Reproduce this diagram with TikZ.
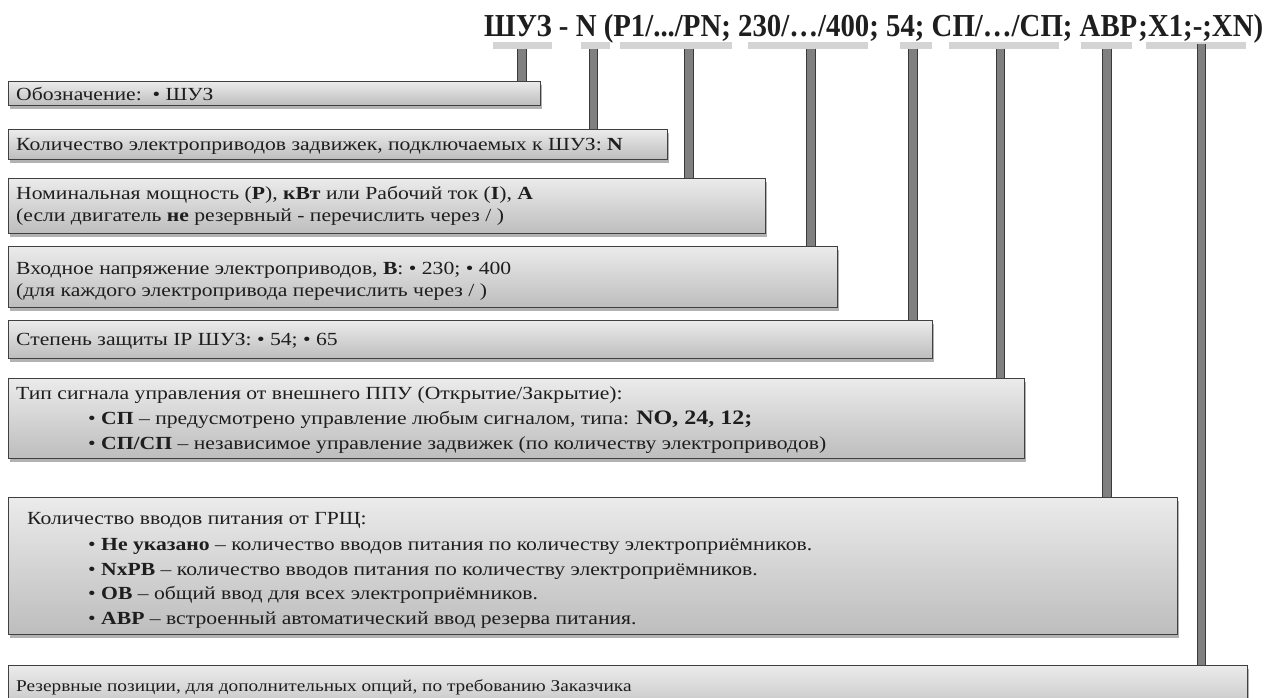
\documentclass[tikz,border=0pt]{standalone}
\usepackage{fontspec}
\setmainfont{Liberation Serif}[FakeStretch=1.17]
\newfontfamily\ttlfont{Liberation Serif}[FakeStretch=0.9]
\usetikzlibrary{shadows}
\definecolor{boxtop}{HTML}{EBEBEB}
\definecolor{boxbot}{HTML}{BDBDBD}
\definecolor{boxline}{HTML}{404040}
\definecolor{barfill}{HTML}{808080}
\definecolor{barline}{HTML}{3A3A3A}
\definecolor{uline}{HTML}{D4D4D4}
\definecolor{ink}{HTML}{1E1E1E}
\begin{document}
\begin{tikzpicture}[x=1pt,y=-1pt,
  box/.style={draw=boxline, line width=1.2pt, top color=boxtop, bottom color=boxbot,
    anchor=north west, inner sep=0pt, rectangle,
    drop shadow={shadow xshift=1.5pt, shadow yshift=-3pt, fill=black, opacity=0.3}},
  txt/.style={anchor=base west, inner sep=0pt, text=ink, font=\fontsize{18.5}{22}\selectfont},
  small/.style={anchor=base west, inner sep=0pt, text=ink, font=\fontsize{16.5}{19}\selectfont},
  ttl/.style={anchor=base west, inner sep=0pt, text=ink, font=\ttlfont\fontsize{32}{36}\selectfont\bfseries},
  ul/.style={fill=uline, draw=none, anchor=north west, inner sep=0pt, minimum height=6.5pt},
  bar/.style={draw=barline, line width=0.9pt, double=barfill, double distance=7.5pt}]
\useasboundingbox (0,0) rectangle (1272,697);
\fill[white] (0,0) rectangle (1272,697);

% title
\node[ttl] (title) at (484,36) {ШУЗ - N (P1/.../PN; 230/…/400; 54; СП/…/СП; АВР;Х1;-;ХN)};

% underlines
\node[ul, minimum width=59pt]  (u1) at (493,42) {};
\node[ul, minimum width=29pt]  (u2) at (581,42) {};
\node[ul, minimum width=112pt] (u3) at (620,42) {};
\node[ul, minimum width=120pt] (u4) at (748,42) {};
\node[ul, minimum width=32pt]  (u5) at (900,42) {};
\node[ul, minimum width=110pt] (u6) at (949,42) {};
\node[ul, minimum width=51pt]  (u7) at (1081,42) {};
\node[ul, minimum width=100pt] (u8) at (1146,42) {};

% bar tops
\coordinate (t1) at (522,48.5);
\coordinate (t2) at (593.5,48.5);
\coordinate (t3) at (689,48.5);
\coordinate (t4) at (811,48.5);
\coordinate (t5) at (913,48.5);
\coordinate (t6) at (1000.5,48.5);
\coordinate (t7) at (1107,48.5);
\coordinate (t8) at (1201.5,44);

% boxes
\node[box, minimum width=532pt,  minimum height=24pt] (b1) at (8,81) {};
\node[box, minimum width=659pt,  minimum height=30pt] (b2) at (8,129) {};
\node[box, minimum width=757pt,  minimum height=55pt] (b3) at (8,178) {};
\node[box, minimum width=829pt,  minimum height=61pt] (b4) at (8,246) {};
\node[box, minimum width=924pt,  minimum height=38pt] (b5) at (8,320) {};
\node[box, minimum width=1016pt, minimum height=80pt] (b6) at (8,378) {};
\node[box, minimum width=1169pt, minimum height=137pt] (b7) at (8,497) {};
\node[box, minimum width=1239pt, minimum height=52pt] (b8) at (8,665) {};

% bars
\draw[bar] (t1) -- (t1 |- b1.north);
\draw[bar] (t2) -- (t2 |- b2.north);
\draw[bar] (t3) -- (t3 |- b3.north);
\draw[bar] (t4) -- (t4 |- b4.north);
\draw[bar] (t5) -- (t5 |- b5.north);
\draw[bar] (t6) -- (t6 |- b6.north);
\draw[bar] (t7) -- (t7 |- b7.north);
\draw[bar] (t8) -- (t8 |- b8.north);

% texts
\node[txt] (x1) at (16,100) {Обозначение:\ \ • ШУЗ};
\node[txt] (x2) at (16,150) {Количество электроприводов задвижек, подключаемых к ШУЗ: \textbf{N}};
\node[txt] (x3a) at (16,199) {Номинальная мощность (\textbf{P}), \textbf{кВт} или Рабочий ток (\textbf{I}), \textbf{A}};
\node[txt] (x3b) at (16,221) {(если двигатель \textbf{не} резервный - перечислить через / )};
\node[txt] (x4a) at (16,274) {Входное напряжение электроприводов, \textbf{В}: • 230; • 400};
\node[txt] (x4b) at (16,296) {(для каждого электропривода перечислить через / )};
\node[txt] (x5) at (16,345) {Степень защиты IP ШУЗ: • 54; • 65};
\node[txt] (x6a) at (16,399) {Тип сигнала управления от внешнего ППУ (Открытие/Закрытие):};
\node[txt] (x6b) at (88,424) {• \textbf{СП} – предусмотрено управление любым сигналом, типа: {\fontsize{20.5}{22}\selectfont\textbf{NO, 24, 12;}}};
\node[txt] (x6c) at (88,449) {• \textbf{СП/СП} – независимое управление задвижек (по количеству электроприводов)};
\node[txt] (x7a) at (27,524) {Количество вводов питания от ГРЩ:};
\node[txt] (x7b) at (88,550) {• \textbf{Не указано} – количество вводов питания по количеству электроприёмников.};
\node[txt] (x7c) at (88,575) {• \textbf{NxPB} – количество вводов питания по количеству электроприёмников.};
\node[txt] (x7d) at (88,599) {• \textbf{ОВ} – общий ввод для всех электроприёмников.};
\node[txt] (x7e) at (88,624) {• \textbf{АВР} – встроенный автоматический ввод резерва питания.};
\node[small] (x8) at (16,691) {Резервные позиции, для дополнительных опций, по требованию Заказчика};
\end{tikzpicture}
\end{document}
